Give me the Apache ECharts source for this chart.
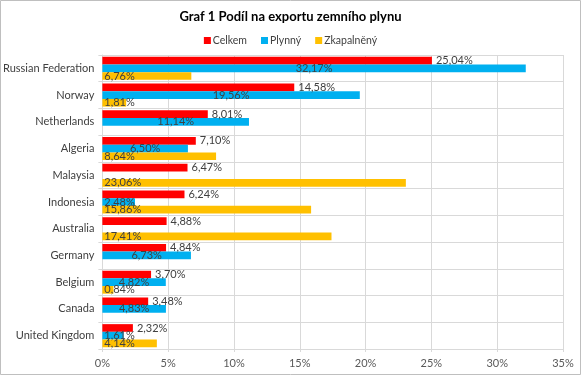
<!DOCTYPE html>
<html><head><meta charset="utf-8">
<script src="https://cdn.jsdelivr.net/npm/echarts@6/dist/echarts.min.js"></script>
<style>html,body{margin:0;padding:0;background:#fff}#c{width:581px;height:375px}</style>
</head><body><div id="c"></div>
<script>
const categories = ["Russian Federation","Norway","Netherlands","Algeria","Malaysia","Indonesia","Australia","Germany","Belgium","Canada","United Kingdom"];
const celkem = [25.04,14.58,8.01,7.10,6.47,6.24,4.88,4.84,3.70,3.48,2.32];
const plynny = [32.17,19.56,11.14,6.50,null,2.48,null,6.73,4.82,4.83,1.61];
const zkapalneny = [6.76,1.81,null,8.64,23.06,15.86,17.41,null,0.84,null,4.14];
const seriesNames = ["Celkem","Plynný","Zkapalněný"];
const titleText = "Graf 1 Podíl na exportu zemního plynu";

const FONT = "Lato";
const fmt = p => p.value == null ? '' : p.value.toFixed(2).replace('.', ',') + '%';
const lbl = (pos, dist) => ({show:true, position:pos, distance:dist, formatter:fmt, color:'#404040', fontSize:11, fontFamily:FONT});
// short blue bars: label starts at the bar's left edge (as Excel clamps it)
const plynnyData = plynny.map(v => (v != null && v < 3) ? {value:v, label:{position:'insideLeft', distance:2}} : v);

const chart = echarts.init(document.getElementById('c'));
chart.setOption({
  animation:false,
  title:{text:titleText, left:'center', top:5, textStyle:{fontFamily:FONT, fontWeight:'bold', fontSize:13, color:'#000'}},
  legend:{data:seriesNames, top:30, left:'center', itemWidth:7, itemHeight:7, itemGap:14, icon:'rect',
    textStyle:{fontFamily:FONT, fontSize:10.5, color:'#404040', padding:[0,0,0,-3]}},
  graphic:[{type:'rect', shape:{x:0.5,y:0.5,width:580,height:374}, style:{fill:'none', stroke:'#bfbfbf', lineWidth:1}, silent:true}],
  grid:{left:101, right:18, top:55, bottom:26, containLabel:false},
  xAxis:{type:'value', min:0, max:35, interval:5,
    axisLabel:{formatter:v=>v+'%', color:'#595959', fontSize:11, fontFamily:FONT, margin:9},
    axisLine:{show:true, lineStyle:{color:'#d9d9d9'}},
    axisTick:{show:true, length:3, lineStyle:{color:'#d9d9d9'}},
    splitLine:{show:true, lineStyle:{color:'#d9d9d9'}}},
  yAxis:{type:'category', data:categories, inverse:true,
    axisLabel:{color:'#404040', fontSize:11, fontFamily:FONT, margin:8},
    axisLine:{show:true, lineStyle:{color:'#d9d9d9'}},
    axisTick:{show:true, length:4, alignWithLabel:false, lineStyle:{color:'#d9d9d9'}},
    splitLine:{show:true, lineStyle:{color:'#d9d9d9'}}},
  series:[
    {name:seriesNames[0], type:'bar', data:celkem, itemStyle:{color:'#ff0000'}, barGap:'0%', barCategoryGap:'14%', label:lbl('right',4)},
    {name:seriesNames[1], type:'bar', data:plynnyData, itemStyle:{color:'#00b0f0'}, barGap:'0%', barCategoryGap:'14%', label:lbl('inside',0)},
    {name:seriesNames[2], type:'bar', data:zkapalneny, itemStyle:{color:'#ffc000'}, barGap:'0%', barCategoryGap:'14%', label:lbl('insideLeft',2)}
  ]
});
</script></body></html>
